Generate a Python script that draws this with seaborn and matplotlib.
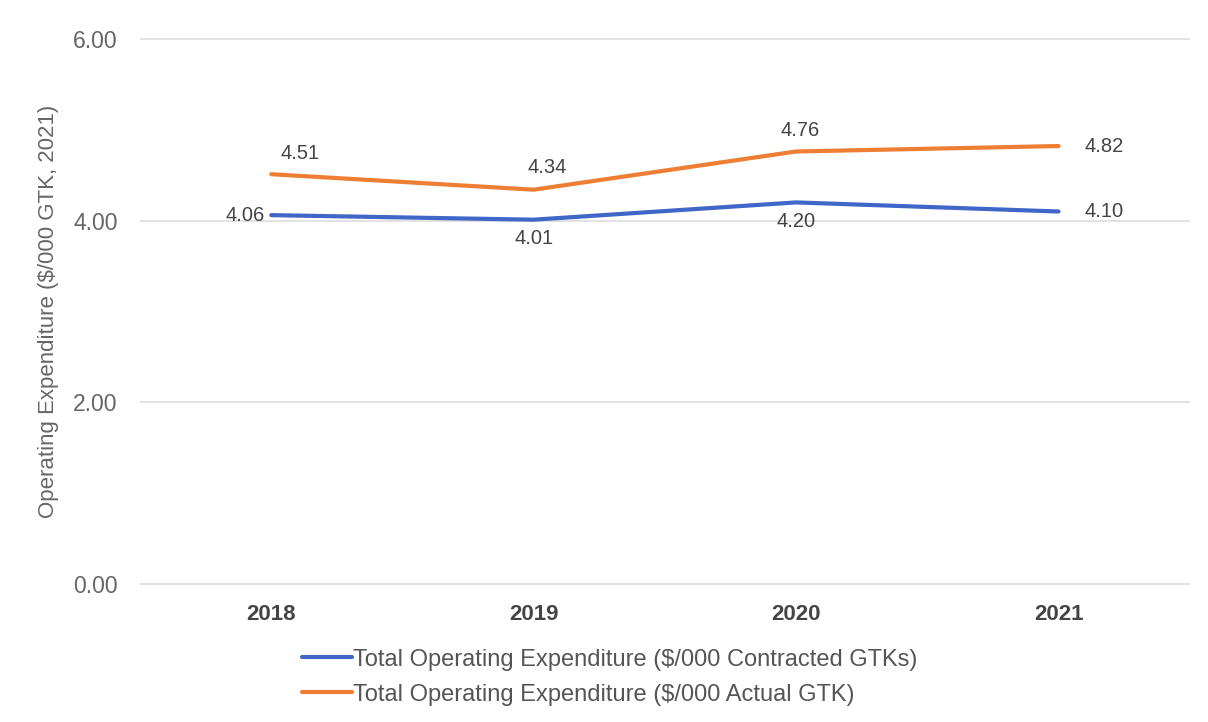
import matplotlib
matplotlib.use("Agg")
import matplotlib.pyplot as plt
import seaborn as sns
import pandas as pd

years = ["2018", "2019", "2020", "2021"]
contracted = [4.06, 4.01, 4.20, 4.10]
actual = [4.51, 4.34, 4.76, 4.82]
series_names = [
    "Total Operating Expenditure ($/000 Contracted GTKs)",
    "Total Operating Expenditure ($/000 Actual GTK)",
]
y_ticks = [0, 2, 4, 6]

sns.set_theme(style="white")
plt.rcParams['font.family'] = ['Liberation Sans', 'DejaVu Sans']

df = pd.DataFrame({
    "Year": years * 2,
    "Value": contracted + actual,
    "Series": [series_names[0]] * 4 + [series_names[1]] * 4,
})

fig = plt.figure(figsize=(12.08, 7.22), dpi=100)
ax = fig.add_axes([0.1159, 0.19, 0.869, 0.757])

palette = {series_names[0]: "#4066C8", series_names[1]: "#EE7E33"}
sns.lineplot(data=df, x="Year", y="Value", hue="Series", palette=palette,
             linewidth=3, ax=ax, sort=False, legend=True)

ax.set_xlim(-0.5, 3.5)
ax.set_ylim(-0.005, 6.005)
ax.set_yticks(y_ticks)
ax.set_yticklabels([f"{v:.2f}" for v in y_ticks], color="#666666", fontsize=16.5)
ax.tick_params(axis="y", pad=16, length=0)
ax.tick_params(axis="x", pad=14, length=0)
for lab in ax.get_xticklabels():
    lab.set_fontweight("bold")
    lab.set_color("#444444")
    lab.set_fontsize(16)
ax.grid(axis="y", color="#dddddd", linewidth=1.2)
for s in ax.spines.values():
    s.set_visible(False)
ax.set_xlabel("")
ax.set_ylabel("Operating Expenditure ($/000 GTK, 2021)", color="#666666", fontsize=16, labelpad=10)

# data labels (offsets in pixels)
lab_kw = dict(fontsize=14.5, color="#444444")
offs_c = [(-6, 0, "right", "center"), (0, -19, "center", "center"),
          (0, -19, "center", "center"), (26, 0, "left", "center")]
offs_a = [(9, 21, "left", "center"), (14, 22, "center", "center"),
          (4, 21, "center", "center"), (26, 0, "left", "center")]
for i, v in enumerate(contracted):
    dx, dy, ha, va = offs_c[i]
    ax.annotate(f"{v:.2f}", (i, v), xytext=(dx, dy), textcoords="offset pixels",
                ha=ha, va=va, **lab_kw)
for i, v in enumerate(actual):
    dx, dy, ha, va = offs_a[i]
    ax.annotate(f"{v:.2f}", (i, v), xytext=(dx, dy), textcoords="offset pixels",
                ha=ha, va=va, **lab_kw)

leg = ax.legend(loc="upper left", bbox_to_anchor=(0.134, -0.078), ncol=1, frameon=False,
                fontsize=17, handlelength=2.1, handletextpad=0.05, labelspacing=0.55,
                title=None)
for t in leg.get_texts():
    t.set_color("#555555")

fig.savefig("out.png", dpi=100)
